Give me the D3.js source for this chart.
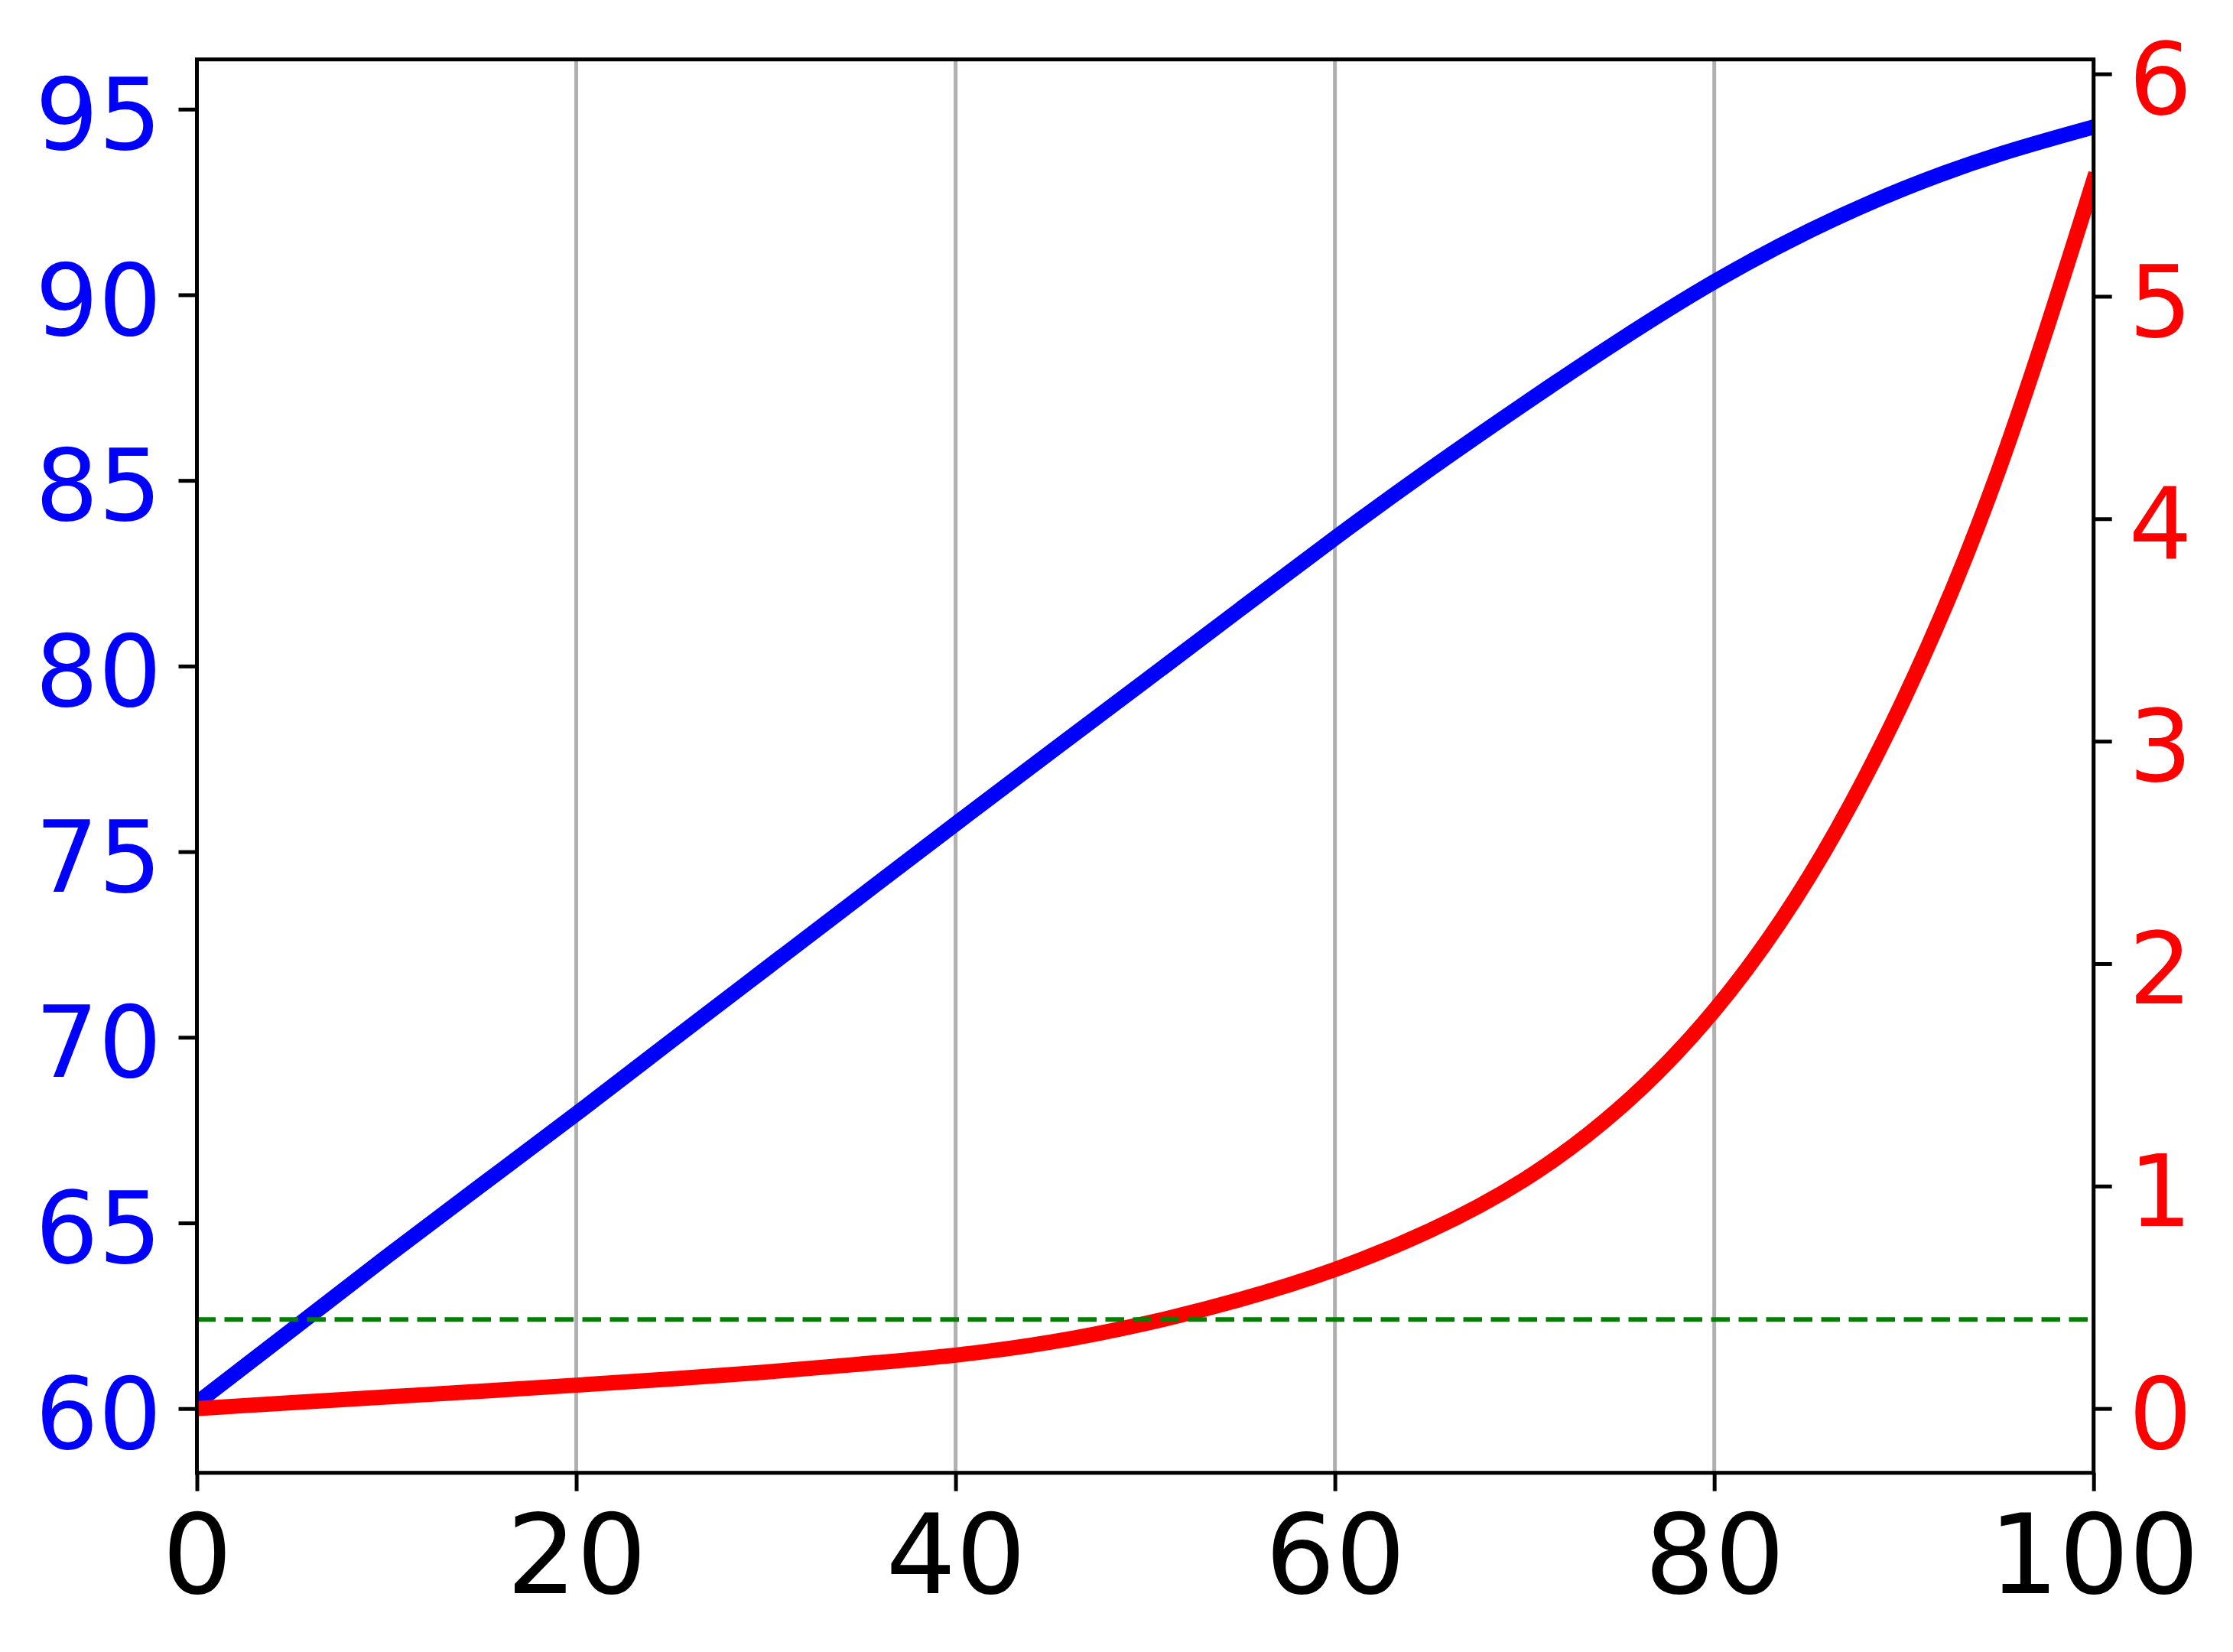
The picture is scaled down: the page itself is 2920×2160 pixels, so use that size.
<!DOCTYPE html>
<html><head><meta charset="utf-8">
<script src="https://cdn.jsdelivr.net/npm/d3@7"></script>
<style>body{margin:0;background:#fff}svg{display:block}</style>
</head><body>
<script>
// ---- data ----
const xValues    = [0, 5, 10, 15, 20, 25, 30, 35, 40, 45, 50, 55, 60, 65, 70, 75, 80, 85, 90, 95, 100];
const blueValues = [60.15, 62.12, 64.09, 66.02, 67.94, 69.9, 71.85, 73.8, 75.75, 77.68, 79.6, 81.53, 83.45, 85.3, 87.07, 88.77, 90.35, 91.72, 92.86, 93.78, 94.52];
const redValues  = [0.0, 0.026, 0.052, 0.078, 0.105, 0.133, 0.164, 0.200, 0.240, 0.298, 0.382, 0.49, 0.625, 0.80, 1.03, 1.35, 1.79, 2.39, 3.19, 4.22, 5.52];
const xTicks     = [0, 20, 40, 60, 80, 100];
const leftTicks  = [60, 65, 70, 75, 80, 85, 90, 95];
const rightTicks = [0, 1, 2, 3, 4, 5, 6];
const thresholdValue = 0.4;

// ---- layout ----
const W = 2920, H = 2160;
const L = 257.5, R = 2737.7, T = 77.7, B = 1925.7;
const font = "DejaVu Sans, sans-serif";

const x  = d3.scaleLinear().domain([0, 100]).range([L, R]);
const yL = d3.scaleLinear().domain([58.27, 96.34]).range([B, T]);
const yR = d3.scaleLinear().domain([-0.289, 6.065]).range([B, T]);

const svg = d3.select("body").append("svg").attr("width", W).attr("height", H)
  .style("background", "#fff");

svg.append("defs").append("clipPath").attr("id", "clip")
  .append("rect").attr("x", L).attr("y", T).attr("width", R - L).attr("height", B - T);

// grid
svg.append("g").selectAll("line").data(xTicks).join("line")
  .attr("x1", d => x(d)).attr("x2", d => x(d)).attr("y1", T).attr("y2", B)
  .attr("stroke", "#b0b0b0").attr("stroke-width", 5);

const plot = svg.append("g").attr("clip-path", "url(#clip)");
const pts = xValues.map((v, i) => ({x: v, b: blueValues[i], r: redValues[i]}));

plot.append("path").datum(pts)
  .attr("d", d3.line().x(d => x(d.x)).y(d => yL(d.b)).curve(d3.curveNatural))
  .attr("fill", "none").attr("stroke", "#0000ff").attr("stroke-width", 20)
  .attr("stroke-linecap", "square");

plot.append("path").datum(pts)
  .attr("d", d3.line().x(d => x(d.x)).y(d => yR(d.r)).curve(d3.curveNatural))
  .attr("fill", "none").attr("stroke", "#ff0000").attr("stroke-width", 20)
  .attr("stroke-linecap", "square");

plot.append("line")
  .attr("x1", L).attr("x2", R).attr("y1", yR(thresholdValue)).attr("y2", yR(thresholdValue))
  .attr("stroke", "#008000").attr("stroke-width", 6).attr("stroke-dasharray", "24.5,11.5");

// axes
function styleAxis(g, color, size) {
  g.select(".domain").remove();
  g.selectAll(".tick line").attr("stroke", "#000").attr("stroke-width", 5);
  g.selectAll(".tick text").attr("fill", color).style("font-family", font).style("font-size", size + "px");
}

const gx = svg.append("g").attr("transform", `translate(0,${B})`)
  .call(d3.axisBottom(x).tickValues(xTicks).tickSize(24).tickPadding(31).tickFormat(d3.format("d")));
styleAxis(gx, "#000", 144);

const gl = svg.append("g").attr("transform", `translate(${L},0)`)
  .call(d3.axisLeft(yL).tickValues(leftTicks).tickSize(24).tickPadding(22).tickFormat(d3.format("d")));
styleAxis(gl, "#0000ff", 130);
gl.selectAll(".tick text").attr("dy", "0.397em");

const gr = svg.append("g").attr("transform", `translate(${R},0)`)
  .call(d3.axisRight(yR).tickValues(rightTicks).tickSize(24).tickPadding(22).tickFormat(d3.format("d")));
styleAxis(gr, "#ff0000", 130);
gr.selectAll(".tick text").attr("dy", "0.397em");

// spines
svg.append("rect").attr("x", L).attr("y", T).attr("width", R - L).attr("height", B - T)
  .attr("fill", "none").attr("stroke", "#000").attr("stroke-width", 5);
</script>
</body></html>
